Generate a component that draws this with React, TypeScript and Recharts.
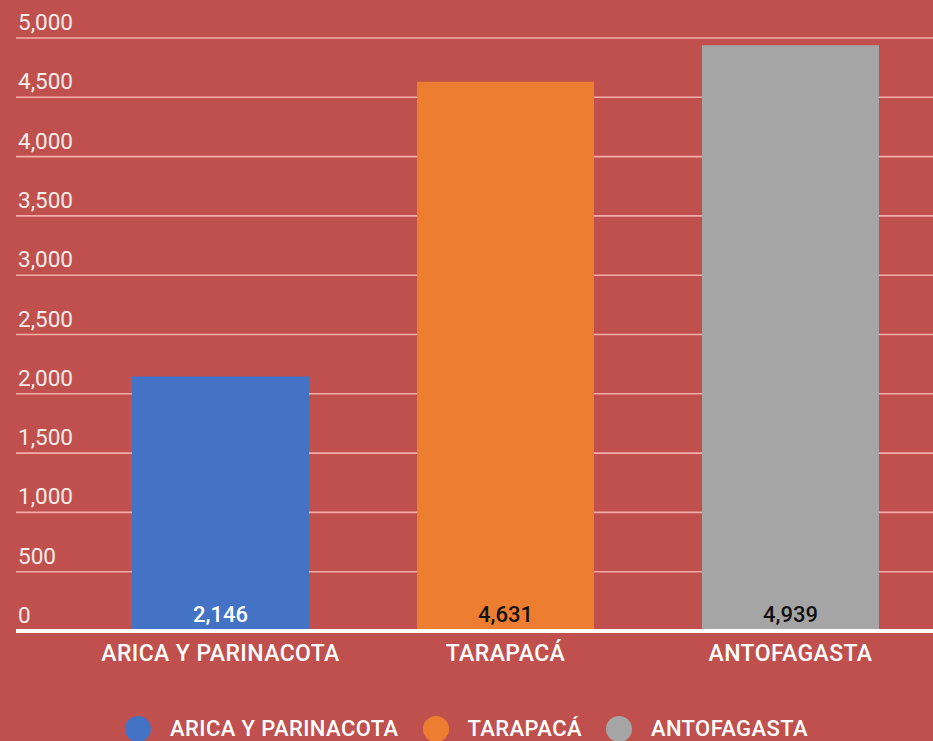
import { BarChart, Bar, XAxis, YAxis, CartesianGrid, Cell, LabelList, Legend } from 'recharts';

const REGIONS = ['ARICA Y PARINACOTA', 'TARAPACÁ', 'ANTOFAGASTA'];
const VALUES = [2146, 4631, 4939];
const COLORS = ['#4472c4', '#ed7d31', '#a5a5a5'];
const LABEL_COLORS = ['#ffffff', '#111111', '#111111'];
const Y_TICKS = [0, 500, 1000, 1500, 2000, 2500, 3000, 3500, 4000, 4500, 5000];

const data = REGIONS.map((name, i) => ({ name, value: VALUES[i] }));

const BG = '#c0504d';
const FONT = 'Roboto, "Noto Sans", sans-serif';

function YTick({ y, payload }: any) {
  return (
    <text x={18} y={y - 8} textAnchor="start" fill="#f8ecea" fontFamily={FONT} fontSize={22.5}>
      {payload.value.toLocaleString('en-US')}
    </text>
  );
}

function XTick({ x, y, payload }: any) {
  return (
    <text x={x} y={y} dy={22} textAnchor="middle" fill="#ffffff" fontFamily={FONT} fontSize={23} fontWeight={500} letterSpacing={0.4}>
      {payload.value}
    </text>
  );
}

function ValueLabel({ x, y, width, height, value, index }: any) {
  return (
    <text x={x + width / 2} y={y + height - 9} textAnchor="middle" fill={LABEL_COLORS[index]} fontFamily={FONT} fontSize={22} fontWeight={500}>
      {Number(value).toLocaleString('en-US')}
    </text>
  );
}

function LegendContent() {
  return (
    <div style={{ display: 'flex', justifyContent: 'center', alignItems: 'center', fontFamily: FONT, fontSize: 22, fontWeight: 500, letterSpacing: 0.4, color: '#fff', lineHeight: '28px' }}>
      {REGIONS.map((r, i) => (
        <div key={r} style={{ display: 'flex', alignItems: 'center', marginRight: i < REGIONS.length - 1 ? 24 : 0 }}>
          <span style={{ display: 'inline-block', width: 26, height: 26, borderRadius: '50%', background: COLORS[i], marginRight: 19 }} />
          <span>{r}</span>
        </div>
      ))}
    </div>
  );
}

export default function App() {
  return (
    <div style={{ position: 'fixed', left: 0, top: 0, width: 933, height: 741, background: BG, overflow: 'hidden' }}>
      <BarChart width={933} height={741} data={data} margin={{ top: 38, right: 0, left: 15, bottom: 70 }} barSize={177}>
        <CartesianGrid vertical={false} stroke="#f4aca5" strokeWidth={1.6} />
        <XAxis
          dataKey="name"
          padding={{ left: 62, right: 0 }}
          axisLine={{ stroke: '#ffffff', strokeWidth: 4 }}
          tickLine={false}
          tick={<XTick />}
          height={40}
          interval={0}
        />
        <YAxis domain={[0, 5000]} ticks={Y_TICKS} width={1} axisLine={false} tickLine={false} tick={<YTick />} interval={0} />
        <Legend
          content={<LegendContent />}
          layout="horizontal"
          verticalAlign="middle"
          align="center"
          wrapperStyle={{ top: 715, left: 0, width: 933 }}
        />
        <Bar dataKey="value" isAnimationActive={false}>
          {data.map((d, i) => (
            <Cell key={d.name} fill={COLORS[i]} />
          ))}
          <LabelList dataKey="value" content={<ValueLabel />} />
        </Bar>
      </BarChart>
    </div>
  );
}
